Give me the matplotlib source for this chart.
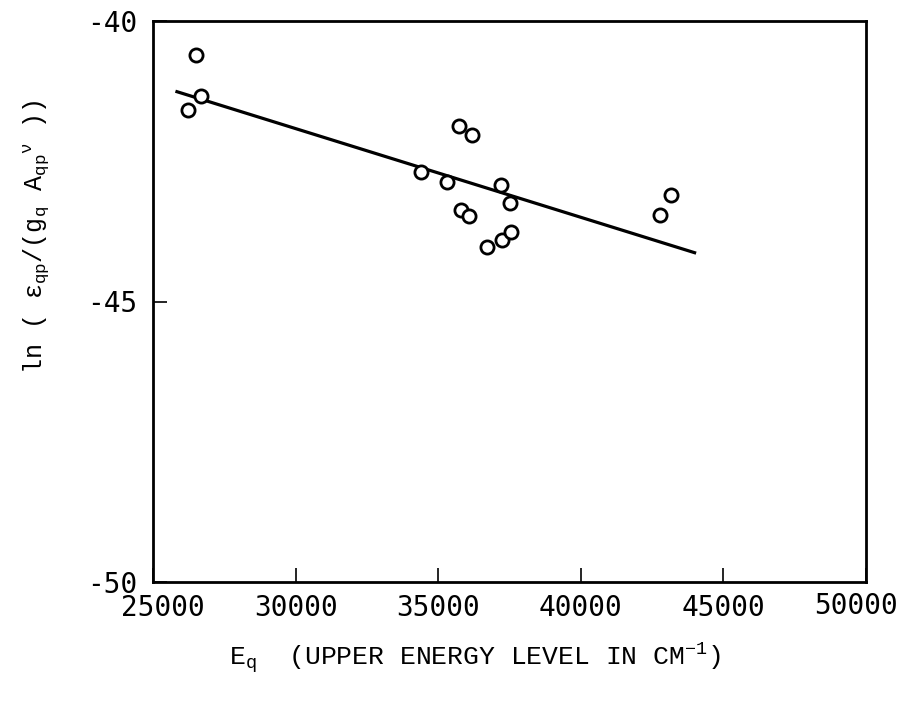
import matplotlib
matplotlib.use("Agg")
import matplotlib.pyplot as plt
import matplotlib.transforms as mtransforms

# upper energy level (cm^-1) and ln(eps/(g A nu))
energy = [26220, 26500, 26680, 35730, 36190, 34410, 35320, 35800, 36080,
          37200, 37520, 36710, 37240, 37550, 42760, 43180]
ln_ratio = [-41.58, -40.60, -41.33, -41.87, -42.04, -42.70, -42.87, -43.37,
            -43.47, -42.93, -43.24, -44.02, -43.91, -43.77, -43.46, -43.11]

# fitted line end points
fit_x = [25840, 43990]
fit_y = [-41.26, -44.13]

xticks = [25000, 30000, 35000, 40000, 45000, 50000]
yticks = [-50, -45, -40]

plt.rcParams["mathtext.fontset"] = "custom"
plt.rcParams["mathtext.rm"] = "Liberation Mono"
plt.rcParams["mathtext.it"] = "Liberation Mono"

fig = plt.figure(figsize=(9.08, 7.05), dpi=100)
ax = fig.add_axes([153 / 908, 1 - 582 / 705, (866 - 153) / 908, (582 - 21) / 705])

ax.plot(fit_x, fit_y, color="black", lw=2.3)
ax.scatter(energy, ln_ratio, s=90, facecolors="white", edgecolors="black",
           linewidths=2, zorder=3)

ax.set_xlim(25000, 50000)
ax.set_ylim(-50, -40)
ax.set_xticks(xticks)
ax.set_yticks(yticks)
ax.set_xticklabels([str(t) for t in xticks], family="DejaVu Sans Mono", fontsize=20)
ax.set_yticklabels([str(t) for t in yticks], family="DejaVu Sans Mono", fontsize=20)
ax.tick_params(direction="in", length=10, width=1.2)
ax.tick_params(axis="x", pad=9)
ax.tick_params(axis="y", pad=11)
for sp in ax.spines.values():
    sp.set_linewidth(2)

# nudge the end labels like in the scan
labels = ax.get_xticklabels()
labels[0].set_transform(labels[0].get_transform() +
                        mtransforms.ScaledTranslation(0.1, 0, fig.dpi_scale_trans))
labels[-1].set_transform(labels[-1].get_transform() +
                         mtransforms.ScaledTranslation(-0.1, 0.03, fig.dpi_scale_trans))

ax.set_xlabel(r"E$_\mathrm{q}$  (UPPER ENERGY LEVEL IN CM$^\mathrm{-1}$)",
              family="Liberation Mono", fontsize=19, labelpad=16)
ax.xaxis.set_label_coords(0.452, -0.105)
ax.set_ylabel(r"ln ( $\mathrm{\epsilon}_\mathrm{qp}$/(g$_\mathrm{q}$ A$_\mathrm{qp}$$^{\nu}$ ))",
              family="Liberation Mono", fontsize=18)
ax.yaxis.set_label_coords(-0.142, 0.615)

fig.savefig("out.png", dpi=100)
